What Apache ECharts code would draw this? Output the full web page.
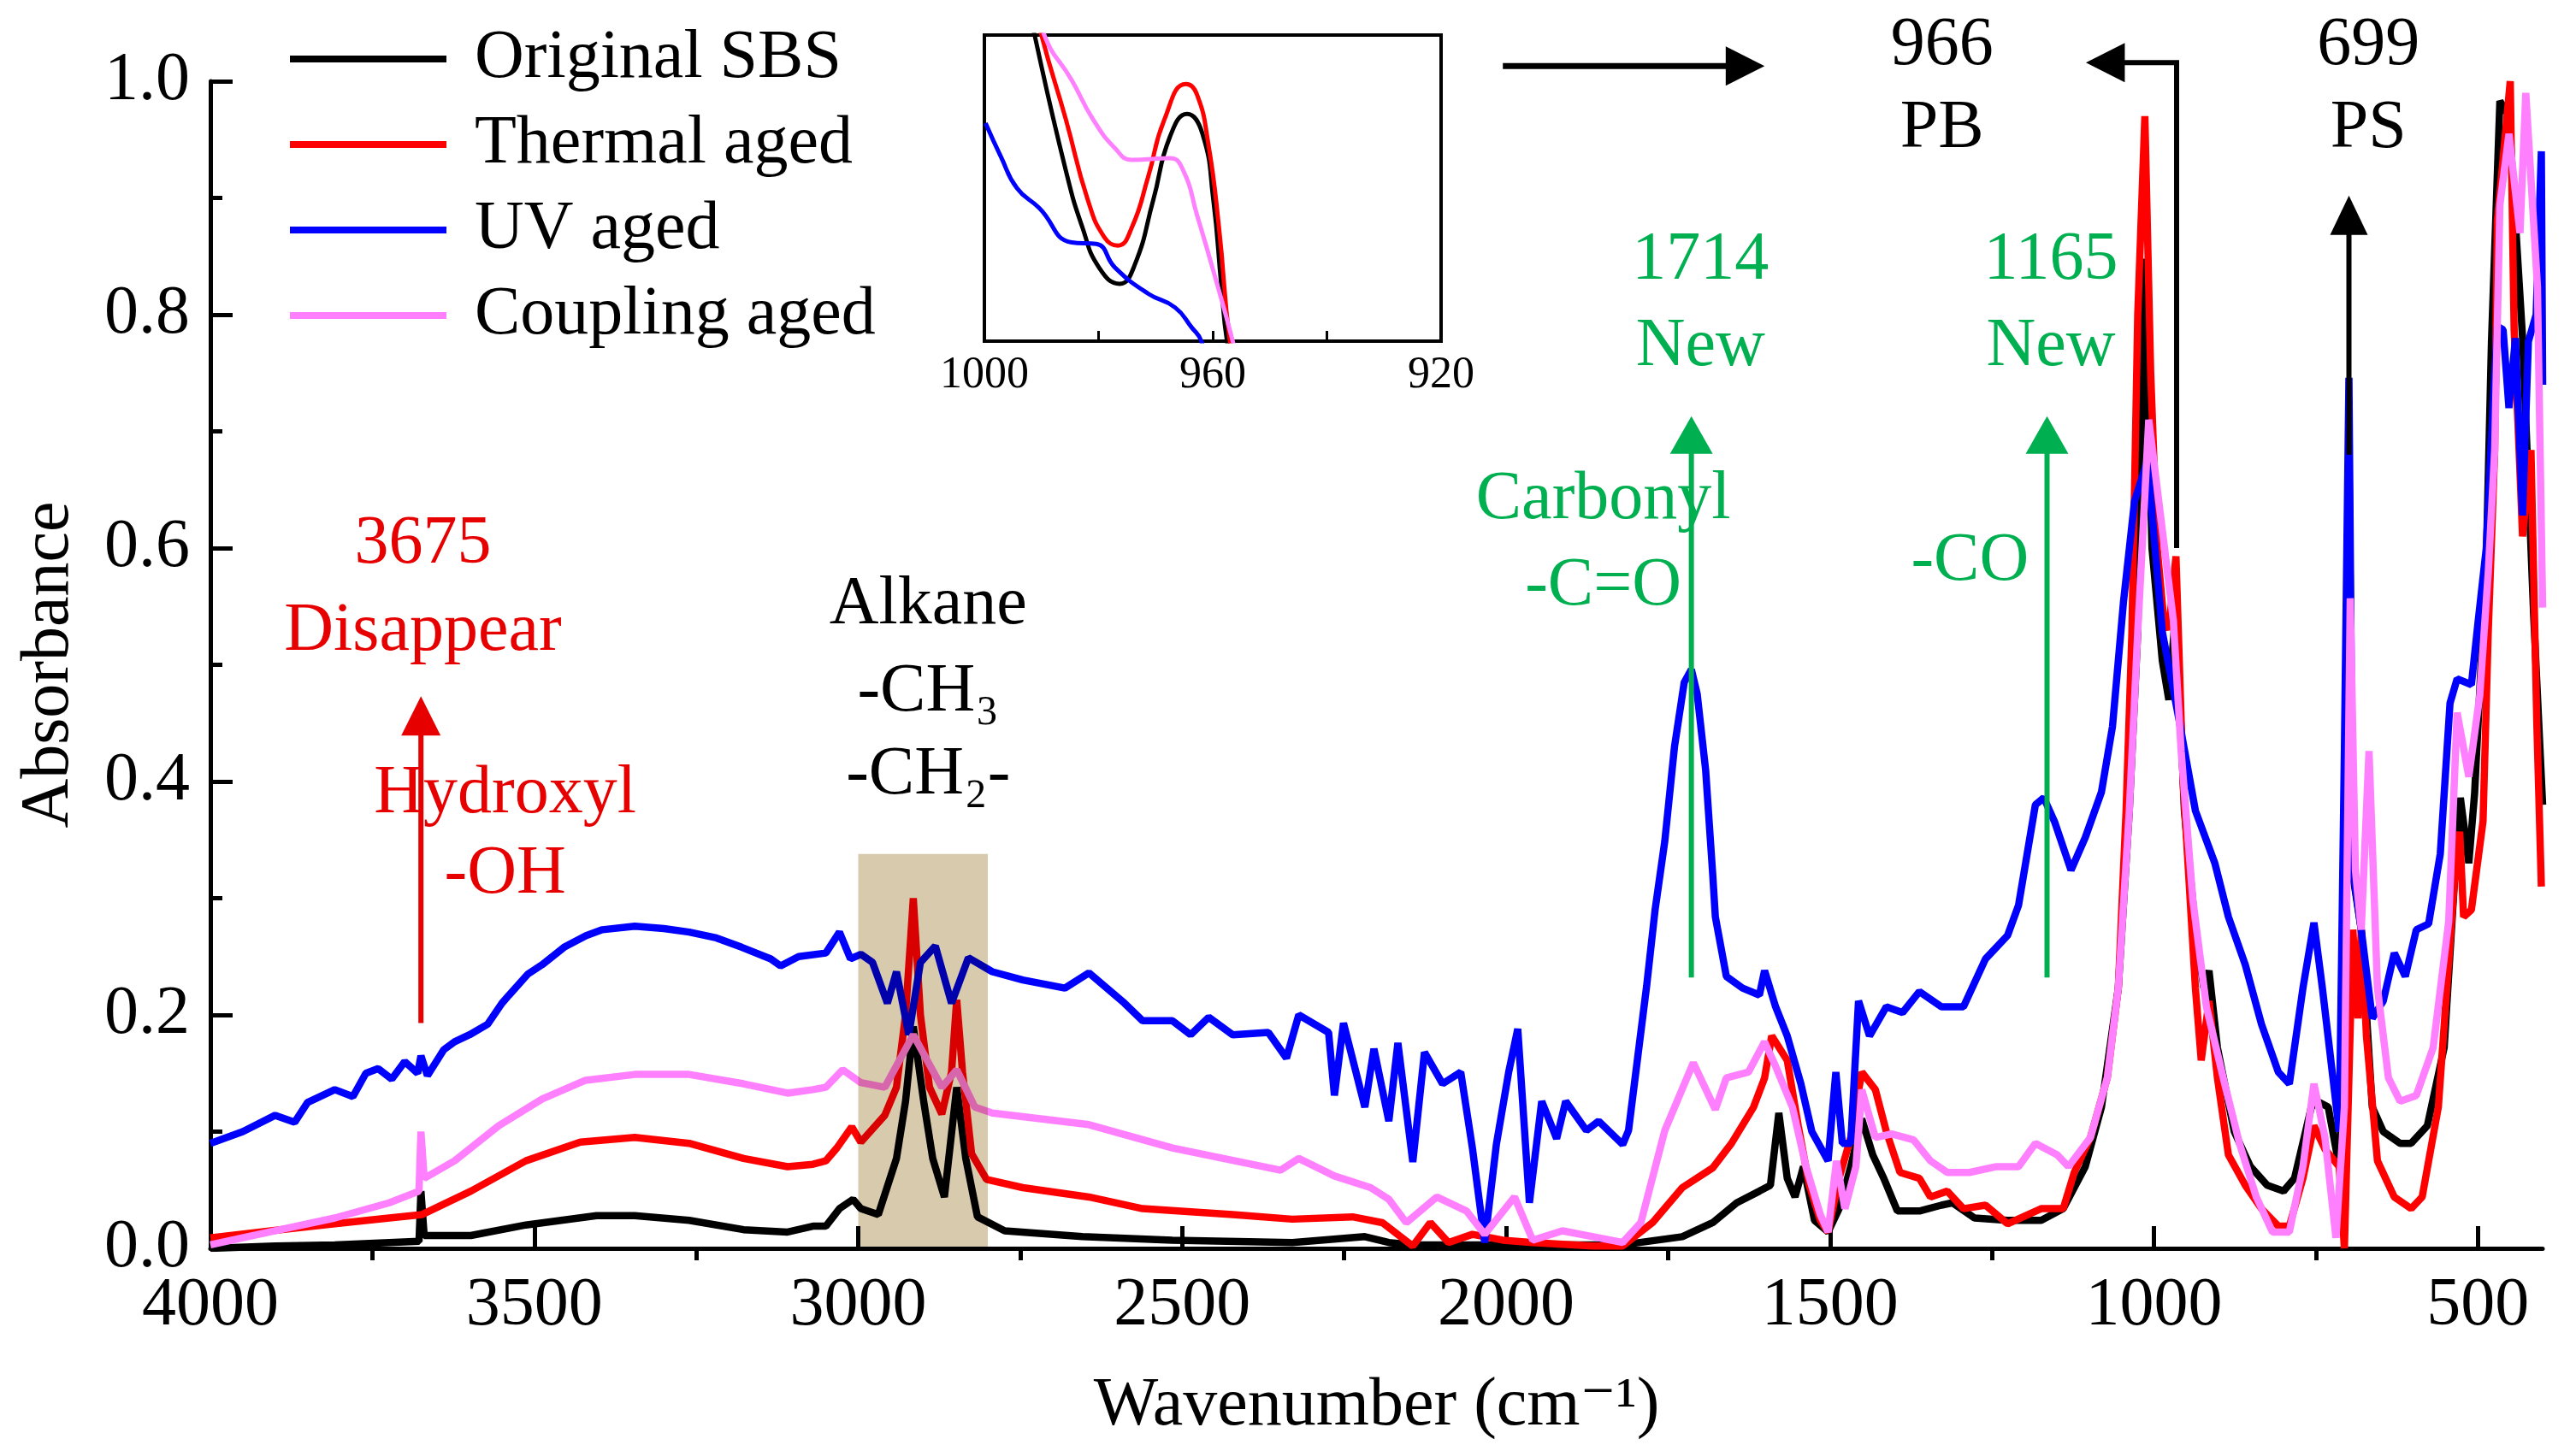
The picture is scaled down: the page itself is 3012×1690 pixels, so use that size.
<!DOCTYPE html>
<html>
<head>
<meta charset="utf-8">
<script src="https://cdn.jsdelivr.net/npm/echarts@6.0.0/dist/echarts.min.js"></script>
<style>
  html, body { margin: 0; padding: 0; background: #fff; }
  #main { width: 3012px; height: 1690px; }
</style>
</head>
<body>
<div id="main"></div>
<script>
// FTIR spectra of SBS, [wavenumber cm-1, absorbance]
const seriesNames = ['Original SBS', 'Thermal aged', 'UV aged', 'Coupling aged'];
const seriesColors = ['#000000', '#ff0000', '#0000ff', '#ff80ff'];

const originalSBS = [[4000,0.0],[3900,0.002],[3808,0.003],[3678,0.006],[3675,0.049],[3670,0.011],[3598,0.011],[3513,0.020],[3404,0.028],[3345,0.028],[3261,0.024],[3177,0.016],[3109,0.014],[3070,0.019],[3050,0.019],[3029,0.034],[3008,0.042],[2996,0.034],[2969,0.029],[2941,0.077],[2927,0.126],[2915,0.190],[2899,0.126],[2885,0.077],[2867,0.044],[2848,0.138],[2834,0.077],[2816,0.027],[2774,0.015],[2654,0.010],[2515,0.007],[2330,0.005],[2218,0.010],[2181,0.005],[2144,0.003],[1820,0.003],[1728,0.010],[1681,0.022],[1644,0.039],[1609,0.049],[1592,0.054],[1579,0.116],[1566,0.060],[1554,0.044],[1541,0.070],[1524,0.024],[1503,0.014],[1486,0.034],[1468,0.070],[1451,0.111],[1434,0.080],[1417,0.060],[1396,0.032],[1362,0.032],[1328,0.037],[1311,0.039],[1277,0.026],[1226,0.024],[1174,0.024],[1140,0.034],[1106,0.070],[1081,0.121],[1055,0.223],[1038,0.375],[1025,0.528],[1014,0.848],[1003,0.600],[987,0.503],[977,0.470],[966,0.550],[953,0.375],[936,0.273],[923,0.223],[915,0.238],[902,0.172],[876,0.100],[851,0.070],[825,0.054],[800,0.049],[783,0.060],[757,0.121],[748,0.126],[731,0.121],[714,0.070],[705,0.200],[699,0.680],[693,0.320],[680,0.273],[663,0.121],[646,0.100],[620,0.090],[603,0.090],[578,0.105],[552,0.172],[535,0.324],[527,0.386],[514,0.330],[505,0.390],[487,0.590],[479,0.777],[466,0.983],[452,0.970],[431,0.780],[414,0.544],[400,0.380]];

const thermalAged = [[4000,0.009],[3892,0.016],[3808,0.021],[3724,0.026],[3673,0.029],[3598,0.049],[3513,0.075],[3429,0.091],[3345,0.095],[3261,0.090],[3177,0.077],[3109,0.070],[3070,0.072],[3050,0.075],[3033,0.086],[3010,0.104],[2996,0.091],[2959,0.114],[2941,0.138],[2927,0.200],[2915,0.300],[2904,0.200],[2890,0.138],[2871,0.115],[2856,0.151],[2848,0.213],[2839,0.151],[2825,0.081],[2802,0.059],[2746,0.052],[2644,0.044],[2561,0.034],[2422,0.029],[2330,0.025],[2237,0.027],[2191,0.022],[2144,0.002],[2117,0.022],[2089,0.005],[2052,0.012],[2005,0.007],[1959,0.005],[1866,0.002],[1820,0.002],[1774,0.022],[1728,0.052],[1681,0.069],[1652,0.090],[1618,0.121],[1601,0.146],[1590,0.182],[1566,0.161],[1549,0.105],[1532,0.054],[1515,0.024],[1503,0.014],[1486,0.060],[1468,0.095],[1451,0.151],[1430,0.136],[1413,0.100],[1392,0.065],[1362,0.060],[1345,0.044],[1319,0.049],[1294,0.034],[1260,0.037],[1226,0.021],[1174,0.034],[1140,0.034],[1123,0.065],[1098,0.095],[1072,0.146],[1055,0.223],[1043,0.375],[1034,0.528],[1025,0.800],[1014,0.970],[1005,0.750],[995,0.600],[985,0.540],[977,0.530],[966,0.593],[955,0.400],[936,0.223],[927,0.161],[915,0.212],[902,0.146],[885,0.080],[859,0.054],[834,0.034],[808,0.019],[791,0.019],[770,0.060],[753,0.105],[736,0.085],[714,0.070],[706,0.0],[693,0.273],[685,0.197],[680,0.273],[672,0.182],[655,0.075],[629,0.044],[603,0.034],[586,0.044],[561,0.121],[535,0.324],[528,0.357],[522,0.284],[510,0.290],[492,0.366],[484,0.528],[474,0.684],[470,0.880],[450,1.0],[444,0.787],[431,0.610],[418,0.684],[409,0.450],[402,0.310]];

const uvAged = [[4000,0.090],[3950,0.100],[3900,0.114],[3870,0.108],[3850,0.125],[3808,0.136],[3780,0.130],[3760,0.150],[3741,0.154],[3720,0.145],[3700,0.160],[3680,0.150],[3675,0.165],[3665,0.148],[3640,0.170],[3623,0.177],[3600,0.183],[3572,0.192],[3550,0.210],[3539,0.217],[3510,0.235],[3488,0.243],[3454,0.258],[3420,0.268],[3395,0.273],[3345,0.276],[3300,0.274],[3261,0.271],[3219,0.266],[3180,0.258],[3135,0.248],[3120,0.242],[3092,0.250],[3050,0.253],[3029,0.271],[3012,0.248],[2996,0.252],[2978,0.245],[2955,0.210],[2941,0.237],[2922,0.183],[2904,0.245],[2881,0.259],[2856,0.210],[2830,0.249],[2793,0.237],[2746,0.230],[2681,0.223],[2644,0.236],[2589,0.210],[2561,0.195],[2515,0.195],[2487,0.183],[2459,0.198],[2422,0.183],[2367,0.185],[2339,0.163],[2320,0.200],[2274,0.185],[2265,0.131],[2251,0.193],[2218,0.121],[2204,0.171],[2181,0.109],[2167,0.176],[2144,0.074],[2126,0.168],[2098,0.141],[2070,0.151],[2052,0.086],[2033,0.005],[2015,0.089],[1996,0.151],[1982,0.188],[1964,0.039],[1945,0.126],[1922,0.094],[1908,0.126],[1876,0.101],[1857,0.109],[1820,0.089],[1811,0.101],[1783,0.225],[1770,0.290],[1755,0.349],[1740,0.430],[1725,0.485],[1714,0.496],[1705,0.475],[1692,0.410],[1681,0.320],[1677,0.284],[1660,0.233],[1635,0.223],[1609,0.217],[1601,0.238],[1584,0.207],[1566,0.182],[1545,0.141],[1528,0.100],[1503,0.075],[1491,0.151],[1481,0.090],[1468,0.090],[1456,0.212],[1439,0.182],[1413,0.207],[1388,0.202],[1362,0.220],[1328,0.207],[1294,0.207],[1260,0.248],[1226,0.268],[1209,0.294],[1183,0.380],[1170,0.386],[1153,0.365],[1128,0.324],[1106,0.352],[1081,0.391],[1064,0.447],[1047,0.554],[1030,0.640],[1010,0.675],[987,0.528],[961,0.452],[936,0.375],[906,0.330],[885,0.284],[859,0.243],[834,0.192],[808,0.151],[791,0.141],[770,0.223],[753,0.279],[740,0.223],[714,0.100],[706,0.426],[699,0.746],[693,0.324],[680,0.273],[663,0.197],[646,0.212],[629,0.253],[612,0.233],[595,0.273],[576,0.278],[558,0.338],[543,0.467],[532,0.488],[510,0.483],[500,0.535],[487,0.600],[480,0.684],[470,0.790],[461,0.787],[452,0.720],[442,0.780],[431,0.628],[422,0.777],[410,0.800],[402,0.940],[400,0.740]];

const couplingAged = [[4000,0.003],[3892,0.016],[3808,0.026],[3724,0.039],[3678,0.049],[3675,0.100],[3670,0.060],[3623,0.075],[3555,0.105],[3488,0.128],[3421,0.144],[3345,0.149],[3261,0.149],[3177,0.141],[3109,0.133],[3070,0.136],[3050,0.138],[3024,0.153],[2996,0.142],[2959,0.138],[2915,0.183],[2871,0.138],[2848,0.153],[2820,0.121],[2793,0.116],[2644,0.106],[2515,0.086],[2348,0.067],[2320,0.077],[2265,0.062],[2209,0.052],[2181,0.042],[2154,0.022],[2107,0.044],[2061,0.032],[2033,0.012],[1987,0.044],[1959,0.007],[1913,0.015],[1866,0.010],[1820,0.005],[1792,0.022],[1755,0.101],[1711,0.159],[1677,0.119],[1660,0.146],[1626,0.151],[1601,0.177],[1584,0.156],[1558,0.121],[1537,0.070],[1515,0.029],[1503,0.014],[1490,0.075],[1477,0.034],[1460,0.070],[1451,0.136],[1430,0.095],[1405,0.098],[1371,0.093],[1345,0.075],[1319,0.065],[1285,0.065],[1243,0.070],[1209,0.070],[1183,0.090],[1149,0.080],[1132,0.070],[1098,0.095],[1072,0.146],[1055,0.223],[1038,0.375],[1025,0.528],[1008,0.710],[987,0.615],[970,0.538],[958,0.426],[940,0.299],[919,0.207],[893,0.146],[868,0.090],[842,0.044],[817,0.014],[791,0.014],[770,0.070],[753,0.141],[736,0.095],[719,0.009],[706,0.121],[697,0.557],[689,0.324],[680,0.273],[668,0.426],[655,0.223],[638,0.146],[620,0.126],[595,0.131],[569,0.172],[545,0.280],[532,0.459],[514,0.404],[497,0.474],[484,0.579],[474,0.684],[466,0.894],[452,0.955],[435,0.870],[426,0.990],[408,0.824],[400,0.549]];

// inset: 1000-920 cm-1 zoom around the 966 PB band
const insetBlack = [[993,0.82],[991.2,0.75],[985.7,0.572],[982.8,0.498],[979.9,0.446],[976.3,0.425],[973.7,0.449],[970.4,0.535],[967.5,0.617],[964.5,0.647],[961.8,0.621],[959.9,0.535],[958.5,0.423],[957.5,0.35],[956,0.30]];
const insetRed = [[992,0.82],[990,0.75],[985.7,0.639],[981.9,0.535],[979.0,0.486],[976.6,0.475],[974.2,0.498],[971.3,0.565],[968.5,0.639],[964.7,0.686],[962.8,0.673],[960.8,0.609],[958.9,0.498],[957.0,0.35],[955.5,0.30]];
const insetBlue = [[999.8,0.635],[997.1,0.591],[994.3,0.55],[990.4,0.524],[984.7,0.479],[980.4,0.477],[977.1,0.446],[971.3,0.412],[966.6,0.394],[963.7,0.368],[962.0,0.35],[960.5,0.30]];
const insetPink = [[992,0.83],[989.5,0.75],[984.7,0.691],[980.9,0.639],[977.1,0.602],[974.2,0.587],[967.5,0.589],[965.1,0.572],[962.8,0.516],[959.9,0.442],[956.5,0.35],[955,0.30]];

const wnTicks = [500, 1000, 1500, 2000, 2500, 3000, 3500, 4000];
const wnMinorTicks = [750, 1250, 1750, 2250, 2750, 3250, 3750];
const insetTicks = [1000, 960, 920];

const serif = '"Liberation Serif", "Times New Roman", "DejaVu Serif", serif';
const green = '#00b050';
const red = '#e60000';

const chart = echarts.init(document.getElementById('main'));

const mainSeries = [originalSBS, thermalAged, uvAged, couplingAged].map((d, i) => ({
  name: seriesNames[i],
  type: 'line',
  xAxisIndex: 0,
  yAxisIndex: 0,
  data: d,
  showSymbol: false,
  symbol: 'none',
  clip: true,
  lineStyle: { color: seriesColors[i], width: 8.5 },
  itemStyle: { color: seriesColors[i] },
  z: 2 + i
}));

const insetSeries = [insetBlack, insetRed, insetBlue, insetPink].map((d, i) => ({
  type: 'line',
  xAxisIndex: 1,
  yAxisIndex: 1,
  data: d,
  showSymbol: false,
  symbol: 'none',
  clip: true,
  smooth: true,
  lineStyle: { color: seriesColors[i], width: 5 },
  z: 5
}));

chart.setOption({
  animation: false,
  backgroundColor: '#ffffff',
  textStyle: { fontFamily: serif },
  legend: {
    data: seriesNames,
    orient: 'vertical',
    left: 334,
    top: 24,
    icon: 'rect',
    itemWidth: 183,
    itemHeight: 8,
    itemGap: 20,
    textStyle: { fontFamily: serif, fontSize: 80, lineHeight: 80, color: '#000', padding: [0, 0, 0, 28] }
  },
  grid: [
    { left: 246, top: 95, width: 2727, height: 1365 },
    { left: 1151, top: 41, width: 534, height: 358, show: true, borderColor: '#000', borderWidth: 4, backgroundColor: '#fff' }
  ],
  xAxis: [
    {
      gridIndex: 0, type: 'value', min: 400, max: 4000, inverse: true,
      name: 'Wavenumber (cm\u207B\u00B9)', nameLocation: 'middle', nameGap: 145,
      nameTextStyle: { fontFamily: serif, fontSize: 80, color: '#000' },
      axisLine: { show: true, onZero: false, lineStyle: { color: '#000', width: 5 } },
      axisTick: { show: true, inside: true, length: 26, lineStyle: { width: 5, color: '#000' }, customValues: wnTicks },
      axisLabel: { fontFamily: serif, fontSize: 80, color: '#000', margin: 28, customValues: wnTicks, formatter: v => String(v) },
      splitLine: { show: false }
    },
    {
      gridIndex: 1, type: 'value', min: 920, max: 1000, interval: 40, inverse: true,
      axisLine: { show: true, lineStyle: { color: '#000', width: 4 } },
      axisTick: { show: true, inside: true, length: 12, lineStyle: { width: 3, color: '#000' } },
      minorTick: { show: true, splitNumber: 2, length: 12, lineStyle: { width: 3, color: '#000' } },
      axisLabel: { fontFamily: serif, fontSize: 52, color: '#000', margin: 14, customValues: insetTicks, formatter: v => String(v) },
      splitLine: { show: false }
    },
    {
      // minor ticks of the main wavenumber axis
      gridIndex: 0, type: 'value', min: 400, max: 4000, inverse: true,
      axisLine: { show: false },
      axisTick: { show: true, inside: true, length: 14, lineStyle: { width: 5, color: '#000' }, customValues: wnMinorTicks },
      axisLabel: { show: false },
      splitLine: { show: false }
    }
  ],
  yAxis: [
    {
      gridIndex: 0, type: 'value', min: 0, max: 1, interval: 0.2,
      name: 'Absorbance', nameLocation: 'middle', nameGap: 148,
      nameTextStyle: { fontFamily: serif, fontSize: 80, color: '#000' },
      axisLine: { show: true, lineStyle: { color: '#000', width: 5 } },
      axisTick: { show: true, inside: true, length: 26, lineStyle: { width: 5, color: '#000' } },
      minorTick: { show: true, splitNumber: 2, length: 14, lineStyle: { width: 5, color: '#000' } },
      axisLabel: { fontFamily: serif, fontSize: 80, color: '#000', margin: 24, formatter: v => v.toFixed(1) },
      splitLine: { show: false }
    },
    {
      gridIndex: 1, type: 'value', min: 0.35, max: 0.75,
      axisLine: { show: true, lineStyle: { color: '#000', width: 4 } },
      axisTick: { show: false },
      axisLabel: { show: false },
      splitLine: { show: false }
    }
  ],
  series: mainSeries.concat(insetSeries)
});

// annotations, anchored on data coordinates
function px(wn, a) {
  return chart.convertToPixel({ xAxisIndex: 0, yAxisIndex: 0 }, [wn, a]);
}
function label(text, wn, a, color, size) {
  const p = px(wn, a);
  return {
    type: 'text', x: p[0], y: p[1], z: 20,
    style: {
      text: text, fill: color, fontFamily: serif, fontSize: size || 80,
      align: 'center', verticalAlign: 'middle', textAlign: 'center', textVerticalAlign: 'middle'
    }
  };
}
function upArrow(wn, a0, a1, color, headW, headH, lw) {
  const p0 = px(wn, a0), p1 = px(wn, a1);
  return [
    { type: 'line', z: 20, shape: { x1: p0[0], y1: p0[1], x2: p1[0], y2: p1[1] + headH - 2 }, style: { stroke: color, lineWidth: lw } },
    { type: 'polygon', z: 20, shape: { points: [[p1[0], p1[1]], [p1[0] - headW / 2, p1[1] + headH], [p1[0] + headW / 2, p1[1] + headH]] }, style: { fill: color } }
  ];
}

const b0 = px(3000, 0.338), b1 = px(2800, 0);
const graphics = [
  // shaded alkane band
  { type: 'rect', z: 15, shape: { x: b0[0], y: b0[1], width: b1[0] - b0[0], height: b1[1] - b0[1] },
    style: { fill: '#d8cbad', blend: 'multiply' } },

  label('3675', 3672, 0.603, red),
  label('Disappear', 3672, 0.528, red),
  label('Hydroxyl', 3545, 0.389, red),
  label('-OH', 3545, 0.320, red),
  label('Alkane', 2892, 0.551, '#000'),
  label('-CH\u2083', 2892, 0.476, '#000'),
  label('-CH\u2082-', 2892, 0.405, '#000'),
  label('Carbonyl', 1850, 0.641, green),
  label('-C=O', 1850, 0.567, green),
  label('1714', 1700, 0.846, green),
  label('New', 1700, 0.772, green),
  label('1165', 1159, 0.846, green),
  label('New', 1159, 0.772, green),
  label('-CO', 1284, 0.588, green),
  label('966', 1327, 1.030, '#000'),
  label('PB', 1327, 0.959, '#000'),
  label('699', 669, 1.030, '#000'),
  label('PS', 669, 0.959, '#000')
]
  .concat(upArrow(3675, 0.193, 0.473, red, 46, 46, 6))
  .concat(upArrow(1714, 0.232, 0.713, green, 50, 44, 6))
  .concat(upArrow(1165, 0.232, 0.713, green, 50, 44, 6))
  .concat(upArrow(699, 0.680, 0.902, '#000', 44, 46, 6));

// arrow pointing from the inset to the 966 label
const r0 = px(2005, 1.013), r1 = px(1661, 1.013), rt = px(1601, 1.013);
graphics.push(
  { type: 'line', z: 20, shape: { x1: r0[0], y1: r0[1], x2: r1[0] + 2, y2: r1[1] }, style: { stroke: '#000', lineWidth: 7 } },
  { type: 'polygon', z: 20, shape: { points: [[rt[0], rt[1]], [r1[0], r1[1] - 23], [r1[0], r1[1] + 23]] }, style: { fill: '#000' } }
);
// elbow arrow from the 966 band up and left
const e0 = px(965, 0.60), e1 = px(965, 1.016), e2 = px(1045, 1.016), et = px(1105, 1.016);
graphics.push(
  { type: 'polyline', z: 20, shape: { points: [[e0[0], e0[1]], [e1[0], e1[1]], [e2[0] - 2, e2[1]]] }, style: { stroke: '#000', lineWidth: 6, fill: null } },
  { type: 'polygon', z: 20, shape: { points: [[et[0], et[1]], [e2[0], e2[1] - 23], [e2[0], e2[1] + 23]] }, style: { fill: '#000' } }
);

chart.setOption({ graphic: graphics });
</script>
</body>
</html>
